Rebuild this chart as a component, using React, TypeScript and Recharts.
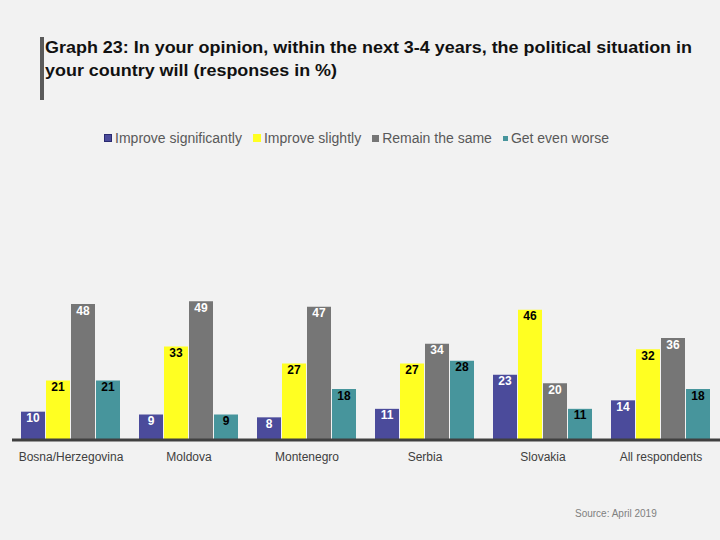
import { BarChart, Bar, XAxis, YAxis, LabelList } from 'recharts';

const categories = ['Bosna/Herzegovina', 'Moldova', 'Montenegro', 'Serbia', 'Slovakia', 'All respondents'];
const improveSignificantly = [10, 9, 8, 11, 23, 14];
const improveSlightly = [21, 33, 27, 27, 46, 32];
const remainSame = [48, 49, 47, 34, 20, 36];
const getWorse = [21, 9, 18, 28, 11, 18];

const series = [
    { key: 'sig', name: 'Improve significantly', color: '#4b4b9b', label: '#ffffff', marker: 8 },
    { key: 'slight', name: 'Improve slightly', color: '#ffff22', label: '#000000', marker: 8 },
    { key: 'same', name: 'Remain the same', color: '#767676', label: '#ffffff', marker: 7 },
    { key: 'worse', name: 'Get even worse', color: '#47959c', label: '#000000', marker: 5 },
];

const FONT = '"Liberation Sans", Arial, sans-serif';

const data = categories.map((c, i) => ({
    name: c,
    sig: improveSignificantly[i],
    slight: improveSlightly[i],
    same: remainSame[i],
    worse: getWorse[i],
}));

function LegendBlock() {
    return (
        <div
            style={{
                position: 'absolute',
                top: 130,
                left: 2,
                width: 720,
                display: 'flex',
                justifyContent: 'center',
                alignItems: 'center',
                fontFamily: FONT,
                fontSize: 14,
                color: '#595959',
            }}
        >
            {series.map((s) => (
                <div key={s.key} style={{ display: 'flex', alignItems: 'center', marginRight: 11 }}>
                    <span
                        style={{
                            width: s.marker,
                            height: s.marker,
                            background: s.color,
                            marginRight: 3,
                            boxSizing: 'border-box',
                            border: s.key === 'sig' ? '1px solid #2a2a70' : 'none',
                        }}
                    />
                    <span>{s.name}</span>
                </div>
            ))}
        </div>
    );
}

export default function App() {
    return (
        <div style={{ position: 'fixed', left: 0, top: 0, width: 720, height: 540, background: '#f2f2f2', overflow: 'hidden' }}>
            <svg width={720} height={110} style={{ position: 'absolute', left: 0, top: 0 }}>
                <rect x={40} y={37} width={4} height={63} fill="#5a5a5a" />
                <text x={45} y={53} fontFamily={FONT} fontWeight="bold" fontSize={17} fill="#111" textLength={647} lengthAdjust="spacingAndGlyphs">
                    Graph 23: In your opinion, within the next 3-4 years, the political situation in
                </text>
                <text x={45} y={76} fontFamily={FONT} fontWeight="bold" fontSize={17} fill="#111" textLength={292} lengthAdjust="spacingAndGlyphs">
                    your country will (responses in %)
                </text>
            </svg>
            <LegendBlock />
            <BarChart
                width={720}
                height={540}
                data={data}
                margin={{ top: 270, right: 0, bottom: 70, left: 12 }}
                barCategoryGap={9}
                barGap={1}
                style={{ position: 'absolute', left: 0, top: 0 }}
            >
                <XAxis
                    dataKey="name"
                    height={30}
                    tickLine={false}
                    axisLine={{ stroke: '#404040', strokeWidth: 3 }}
                    tickMargin={6}
                    tick={{ fontSize: 12, fill: '#404040', fontFamily: FONT }}
                    interval={0}
                />
                <YAxis hide domain={[0, 60]} />
                {series.map((s) => (
                    <Bar key={s.key} dataKey={s.key} name={s.name} fill={s.color} isAnimationActive={false}>
                        <LabelList
                            dataKey={s.key}
                            position="insideTop"
                            offset={2}
                            fill={s.label}
                            fontSize={12}
                            fontWeight="bold"
                            fontFamily={FONT}
                        />
                    </Bar>
                ))}
            </BarChart>
            <div style={{ position: 'absolute', left: 575, top: 508, fontFamily: FONT, fontSize: 10, color: '#808080' }}>
                Source: April 2019
            </div>
        </div>
    );
}
